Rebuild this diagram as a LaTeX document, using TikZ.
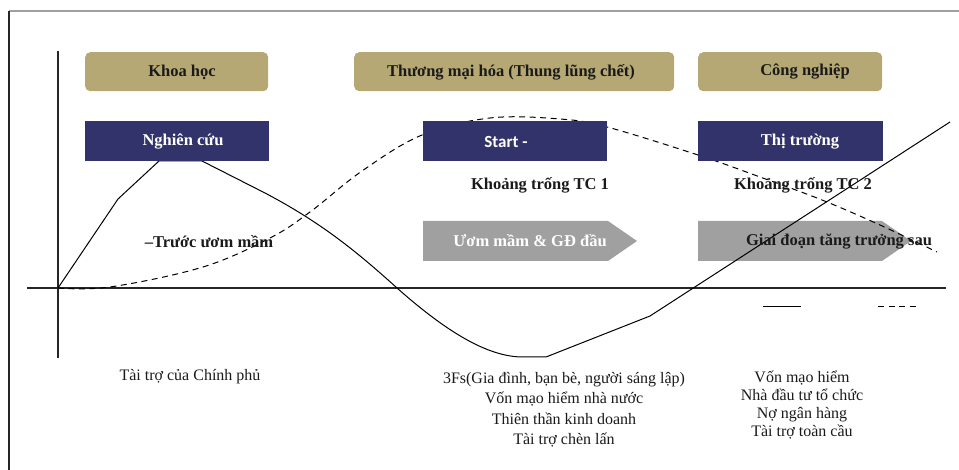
\documentclass[tikz,border=0pt]{standalone}
\usepackage{fontspec}
\setmainfont{Liberation Serif}
\newfontfamily\startfont{Carlito}
\definecolor{khaki1}{RGB}{181,168,116}
\definecolor{navy1}{RGB}{51,51,107}
\definecolor{grayarr}{RGB}{160,160,160}
\definecolor{txt}{RGB}{26,26,26}
\begin{document}
\begin{tikzpicture}[x=1pt,y=-1pt,
  phase/.style={fill=khaki1, rounded corners=5pt, inner sep=0pt, minimum width=#1, minimum height=39pt, anchor=north west},
  stagebox/.style={fill=navy1, inner sep=0pt, minimum width=184pt, minimum height=40pt, anchor=north west},
  btxt/.style={font=\bfseries\fontsize{16.5}{19}\selectfont, text=txt, inner sep=0pt},
  wtxt/.style={font=\bfseries\fontsize{16.5}{19}\selectfont, text=white, inner sep=0pt},
  rtxt/.style={font=\fontsize{16}{20.5}\selectfont, text=txt, align=center, inner sep=0pt},
  curve/.style={line width=1pt, black},
  axis/.style={line width=1.2pt, black!85},
  gap/.style={dash pattern=on 6pt off 4.5pt}
]
\useasboundingbox (0,0) rectangle (959,470);
% frame
\draw[gray!75, line width=1.2pt] (9,11) -- (959,11);
\draw[black!85, line width=1.2pt] (9,11) -- (9,470);

% phase boxes
\node[phase=183pt] (kh) at (85,52) {};
\node[phase=320pt] (tm) at (354,52) {};
\node[phase=184pt] (cn) at (698,52) {};
\node[btxt] (khT) at (182,72) {Khoa học};
\node[btxt] (tmT) at (511,72) {Thương mại hóa (Thung lũng chết)};
\node[btxt] (cnT) at (805,72) {Công nghiệp};

% gray arrows
\fill[grayarr] (423,221) -- (608,221) -- (637,241) -- (608,261) -- (423,261) -- cycle;
\fill[grayarr] (698,221) -- (882,221) -- (911,241) -- (882,261) -- (698,261) -- cycle;
\node[wtxt] (ut) at (530,241) {Ươm mầm \& GĐ đầu};

% axes
\draw[axis] (58,51) -- (58,358);
\draw[axis] (27,288) -- (946,288);

% curves
\draw[curve] (58,288) -- (118,199) -- (159,161) -- (202,161) -- (265,193)
  .. controls (320,222) and (355,250) .. (397,288)
  .. controls (450,335) and (490,357) .. (523,357) -- (546,357) -- (650,316) -- (950,122);
\draw[curve, gap] plot[smooth, tension=0.6] coordinates {(58,288) (110,287) (203,267) (270,238) (310,212) (362,171) (422,135) (490,118) (560,119) (607,127) (698,155) (760,177) (822,200) (880,225) (937,252)};

% stage boxes
\node[stagebox] (nc) at (85,121) {};
\node[stagebox] (st) at (423,121) {};
\node[stagebox, minimum width=185pt] (tt) at (698,121) {};
\node[wtxt] (ncT) at (183,142) {Nghiên cứu};
\node[text=white, inner sep=0pt, font=\startfont\bfseries\fontsize{17}{20}\selectfont] (stT) at (506,142) {Start -};
\node[wtxt] (ttT) at (800,142) {Thị trường};

% labels
\node[btxt] (g1) at (540,185) {Khoảng trống TC 1};
\node[btxt] (g2) at (803,185) {Khoảng trống TC 2};
\node[btxt] (tu) at (209,242) {–Trước ươm mầm};
\node[btxt] (gd) at (839,242) {Giai đoạn tăng trưởng sau};

% legend
\coordinate (ls1) at (763,307);
\coordinate (ls2) at (801,307);
\coordinate (ld1) at (878,307);
\coordinate (ld2) at (917,307);
\draw[curve] (ls1) -- (ls2);
\draw[curve, gap] (ld1) -- (ld2);

% funding texts
\node[rtxt] (f1) at (190,377) {Tài trợ của Chính phủ};
\node[rtxt, anchor=north] (f2) at (564,372) {3Fs(Gia đình, bạn bè, người sáng lập)\\Vốn mạo hiểm nhà nước\\Thiên thần kinh doanh\\Tài trợ chèn lấn};
\node[rtxt, anchor=north, font=\fontsize{16}{18}\selectfont] (f3) at (802,371) {Vốn mạo hiểm\\Nhà đầu tư tổ chức\\Nợ ngân hàng\\Tài trợ toàn cầu};
\end{tikzpicture}
\end{document}
